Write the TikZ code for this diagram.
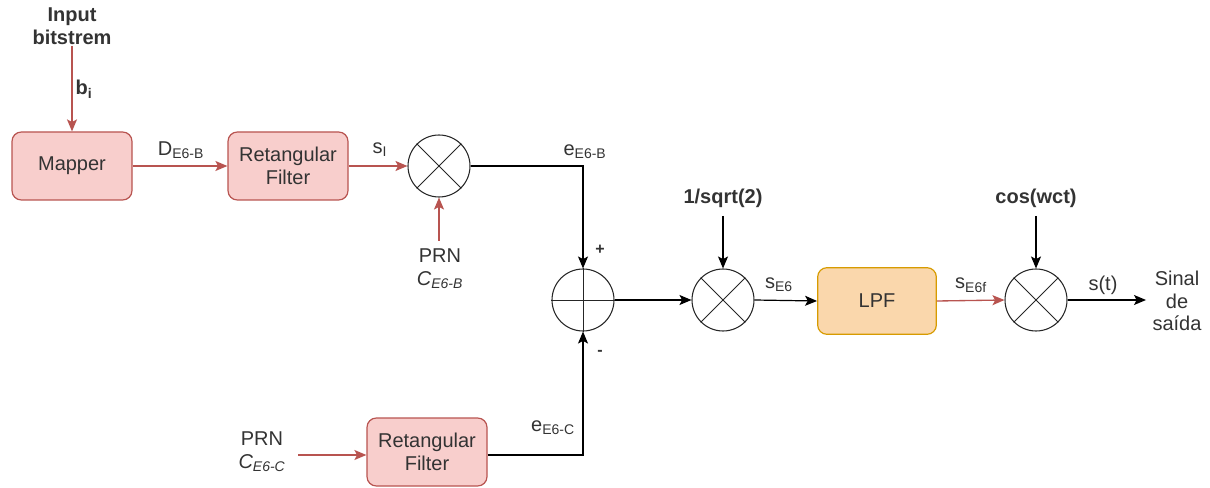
\documentclass[tikz,border=0pt]{standalone}
\usepackage{fontspec}
\setmainfont{Liberation Sans}
\usetikzlibrary{arrows.meta}
\definecolor{redfill}{HTML}{F8CECC}
\definecolor{redline}{HTML}{B85450}
\definecolor{orfill}{HTML}{FAD7AC}
\definecolor{orline}{HTML}{D79B00}
\definecolor{txt}{HTML}{333333}
\begin{document}
\begin{tikzpicture}[x=0.75pt,y=-0.75pt,
  every node/.style={font=\fontsize{15}{17}\selectfont, text=txt},
  redbox/.style={draw=redline, fill=redfill, rounded corners=7pt, minimum width=90pt, minimum height=51pt, align=center, line width=0.9pt},
  orbox/.style={draw=orline, fill=orfill, rounded corners=7pt, minimum width=89pt, minimum height=50pt, align=center, line width=0.9pt},
  mult/.style={draw=black!85, circle, minimum size=46.5pt, inner sep=0pt, line width=0.8pt},
  lbl/.style={inner sep=1pt},
  redarr/.style={draw=redline, line width=1pt, -{Stealth[length=9pt,width=7.5pt,inset=2pt]}},
  blkarr/.style={draw=black, line width=0.9pt, -{Stealth[length=9pt,width=7.5pt,inset=2pt]}},
  blk/.style={draw=black, line width=0.9pt}
]
\useasboundingbox (0,0) rectangle (1210,488);

% boxes
\node[redbox] (mapper) at (72,166) {Mapper};
\node[redbox] (rf1) at (288,166) {Retangular\\Filter};
\node[redbox] (rf2) at (427,452) {Retangular\\Filter};
\node[orbox] (lpf) at (877,301) {LPF};

% multipliers / adder
\node[mult] (m1) at (439,166) {};
\node[mult] (add) at (583,300) {};
\node[mult] (m2) at (723,300) {};
\node[mult] (m3) at (1036,300) {};
\foreach \m in {m1,m2,m3}{
  \draw[black!85, line width=0.7pt] (\m.45) -- (\m.225) (\m.135) -- (\m.315);
}
\draw[black!85, line width=0.7pt] (add.north) -- (add.south) (add.west) -- (add.east);

% text sources
\node[align=center, font=\fontsize{15}{17}\selectfont\bfseries] (inp) at (72,26) {Input\\bitstrem};
\node[align=center] (prnb) at (440,269) {PRN\\\textit{C\textsubscript{E6-B}}};
\node[align=center] (prnc) at (262,452) {PRN\\\textit{C\textsubscript{E6-C}}};
\node[font=\fontsize{15}{17}\selectfont\bfseries] (sq) at (723,198) {1/sqrt(2)};
\node[font=\fontsize{15}{17}\selectfont\bfseries] (cw) at (1036,198) {cos(wct)};
\node[align=center] (out) at (1177,301) {Sinal\\de\\saída};

% coordinates for free ends
\coordinate (inpS) at (72,46);
\coordinate (prnbN) at (439,241);
\coordinate (prncE) at (298,455);
\coordinate (sqS) at (723,216);
\coordinate (cwS) at (1036,216);
\coordinate (outW) at (1146,300);
\coordinate (j1) at (583,166);
\coordinate (j2) at (583,455);

% connectors
\draw[redarr] (inpS) -- (mapper.north);
\draw[redarr] (mapper.east) -- (rf1.west);
\draw[redarr] (rf1.east) -- (m1.west);
\draw[redarr] (prnbN) -- (m1.south);
\draw[redarr] (prncE) -- (rf2.west |- prncE);
\draw[blkarr] (m1.east) -- (j1) -- (add.north);
\draw[blkarr] (rf2.east |- j2) -- (j2) -- (add.south);
\draw[blkarr] (add.east) -- (m2.west);
\draw[blkarr] (sqS) -- (m2.north);
\draw[blkarr] (m2.east) -- (lpf.west);
\draw[redarr] (lpf.east) -- (m3.west);
\draw[blkarr] (cwS) -- (m3.north);
\draw[blkarr] (m3.east) -- (outW);

% labels
\node[lbl, font=\fontsize{15}{17}\selectfont\bfseries] at (84,89) {b\textsubscript{i}};
\node[lbl] at (181,150) {D\textsubscript{E6-B}};
\node[lbl] at (380,150) {s\textsubscript{I}};
\node[lbl] at (585,152) {e\textsubscript{E6-B}};
\node[lbl, font=\fontsize{12}{14}\selectfont\bfseries] at (600,250) {+};
\node[lbl, font=\fontsize{12}{14}\selectfont\bfseries] at (600,353) {-};
\node[lbl] at (779,285) {s\textsubscript{E6}};
\node[lbl] at (971,285) {s\textsubscript{E6f}};
\node[lbl] at (1103,285) {s(t)};
\node[lbl] at (553,428) {e\textsubscript{E6-C}};
\end{tikzpicture}
\end{document}
